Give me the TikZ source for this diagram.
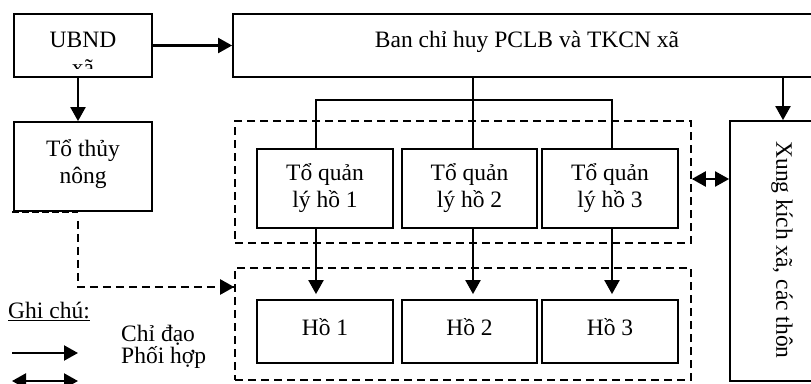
\documentclass[tikz,border=0pt]{standalone}
\usepackage{fontspec}
\setmainfont{Liberation Serif}
\usetikzlibrary{arrows.meta}
\begin{document}
\begin{tikzpicture}[x=1pt,y=-1pt,
  box/.style={draw, line width=1.8pt, inner sep=0pt},
  grp/.style={draw, dash pattern=on 8pt off 5pt, line width=1.6pt, inner sep=0pt},
  txt/.style={font=\fontsize{23.5}{27.5}\selectfont, align=center, inner sep=0pt},
  tip/.style={-{Triangle[length=14pt,width=15pt]}},
  arr/.style={line width=2.2pt, tip},
  darr/.style={line width=2.2pt, {Triangle[length=14pt,width=15pt]}-{Triangle[length=14pt,width=15pt]}},
  ln/.style={line width=2.2pt},
  dln/.style={line width=2.2pt, dash pattern=on 8pt off 5pt}]
\useasboundingbox (0,0) rectangle (811,383);
\clip (0,0) rectangle (811,383);

% top row
\node[box, minimum width=138pt, minimum height=63pt] (ubnd) at (83,45.5) {};
\begin{scope}
  \clip (14,14) rectangle (152,68);
  \node[txt] (ubndtxt) at (83,54) {UBND\\xã};
\end{scope}
\node[box, minimum width=582pt, minimum height=63pt] (ban) at (524,45.5) {};
\node[txt, anchor=base] (bantxt) at (527,47) {Ban chỉ huy PCLB và TKCN xã};

% left
\node[box, minimum width=138pt, minimum height=89pt] (tho) at (83,166.5) {};
\node[txt] (thotxt) at (83,164) {Tổ thủy\\nông};

% groups
\node[grp, minimum width=456pt, minimum height=122pt] (grp1) at (463,182) {};
\node[grp, minimum width=456pt, minimum height=112pt] (grp2) at (463,324) {};

% Tổ quản lý
\node[box, minimum width=136pt, minimum height=79pt] (q1) at (325,188.5) {};
\node[box, minimum width=135pt, minimum height=79pt] (q2) at (469.5,188.5) {};
\node[box, minimum width=136pt, minimum height=79pt] (q3) at (610,188.5) {};
\node[txt] (q1t) at (325,188) {Tổ quản\\lý hồ 1};
\node[txt] (q2t) at (469.5,188) {Tổ quản\\lý hồ 2};
\node[txt] (q3t) at (610,188) {Tổ quản\\lý hồ 3};

% Hồ
\node[box, minimum width=136pt, minimum height=63pt] (h1) at (325,331.5) {};
\node[box, minimum width=135pt, minimum height=63pt] (h2) at (469.5,331.5) {};
\node[box, minimum width=136pt, minimum height=63pt] (h3) at (610,331.5) {};
\node[txt, anchor=base] (h1t) at (325,335) {Hồ 1};
\node[txt, anchor=base] (h2t) at (469.5,335) {Hồ 2};
\node[txt, anchor=base] (h3t) at (610,335) {Hồ 3};

% Xung kích
\node[box, minimum width=85pt, minimum height=260pt] (xk) at (772.5,251) {};
\node[txt, rotate=-90] (xkt) at (782,250) {Xung kích xã, các thôn};

% connectors
\coordinate (busL) at (316,100);
\coordinate (busM) at (473,100);
\coordinate (busR) at (612,100);
\coordinate (xkx) at (783,100);
\coordinate (dc) at (78,287);
\coordinate (dv) at (78,0);

\draw[arr] (ubnd.east) -- (ubnd.east -| ban.west);
\draw[arr] (dv |- ubnd.south) -- (dv |- tho.north);
\draw[arr] (xkx |- ban.south) -- (xkx |- xk.north);
\draw[ln] (busM |- ban.south) -- (busM |- q2.north);
\draw[ln] (busL |- q1.north) -- (busL) -- (busR) -- (busR |- q3.north);
\draw[arr, shorten >=5pt] (busL |- q1.south) -- (busL |- h1.north);
\draw[arr, shorten >=5pt] (busM |- q2.south) -- (busM |- h2.north);
\draw[arr, shorten >=5pt] (busR |- q3.south) -- (busR |- h3.north);
\draw[darr] ([yshift=3pt]grp1.east) -- ([yshift=3pt]grp1.east -| xk.west);

% dashed link from Tổ thủy nông
\draw[line width=2.6pt, dash pattern=on 7pt off 3pt] ([xshift=-1pt]tho.south west) -- (dv |- tho.south);
\draw[dln] ([yshift=-9pt]dv |- tho.south) -- (dc) -- (dc -| grp2.west);
\draw[line width=2.2pt, tip] ([xshift=-4pt]dc -| grp2.west) -- (dc -| grp2.west);

% legend
\node[txt, anchor=base west] (gc) at (8,318) {\underline{Ghi chú:}};
\node[txt, anchor=base west] (cd) at (121,341) {Chỉ đạo};
\node[txt, anchor=base west] (ph) at (121,363) {Phối hợp};
\coordinate (la) at (12,353);
\coordinate (lb) at (78,353);
\coordinate (lc) at (12,381);
\coordinate (ld) at (78,381);
\draw[arr] (la) -- (lb);
\draw[darr] (lc) -- (ld);
\end{tikzpicture}
\end{document}
